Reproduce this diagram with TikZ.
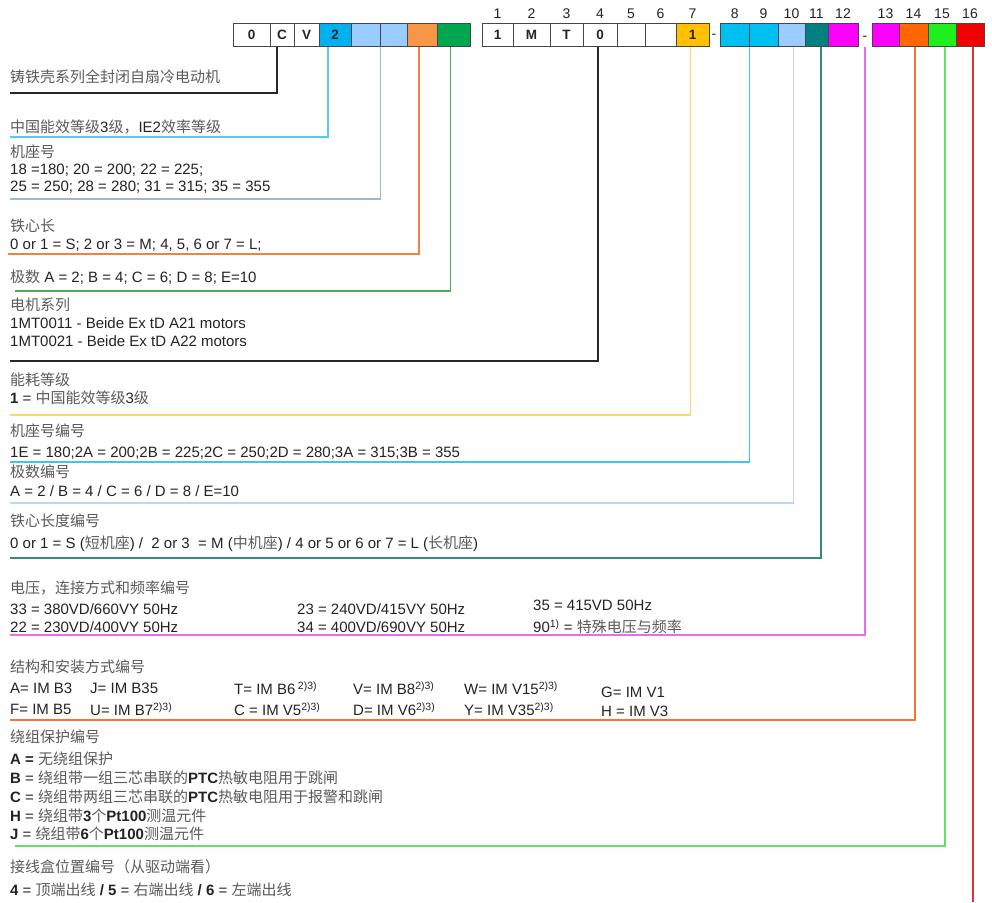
\documentclass[tikz,border=0pt]{standalone}
\usepackage{fontspec}
\setmainfont{Liberation Sans}
\newfontfamily\cjk{Noto Sans CJK SC}
\usepackage{tikz}
\usetikzlibrary{positioning}
\definecolor{txtc}{RGB}{35,35,35}
\definecolor{zhc}{RGB}{90,90,90}
\definecolor{cellline}{RGB}{70,70,70}
\definecolor{cblue}{RGB}{0,176,240}
\definecolor{clight}{RGB}{153,204,255}
\definecolor{corange}{RGB}{247,150,70}
\definecolor{cgreen}{RGB}{0,166,80}
\definecolor{cyellow}{RGB}{255,192,0}
\definecolor{ccyan}{RGB}{0,192,242}
\definecolor{cteal}{RGB}{0,128,128}
\definecolor{cmag}{RGB}{255,0,255}
\definecolor{corgb}{RGB}{255,102,0}
\definecolor{cgrnb}{RGB}{30,240,30}
\definecolor{cred}{RGB}{240,0,0}
\definecolor{lnblack}{RGB}{40,40,40}
\definecolor{lnblue}{RGB}{90,200,240}
\definecolor{lnlb}{RGB}{160,180,215}
\definecolor{lnorange}{RGB}{240,130,60}
\definecolor{lngreen}{RGB}{80,170,90}
\definecolor{lnyellow}{RGB}{255,215,100}
\definecolor{lncyan}{RGB}{60,200,235}
\definecolor{lnlbb}{RGB}{190,215,240}
\definecolor{lnteal}{RGB}{50,140,125}
\definecolor{lnmag}{RGB}{230,110,235}
\definecolor{lnorgb}{RGB}{240,120,50}
\definecolor{lngrnb}{RGB}{100,225,100}
\definecolor{lnred}{RGB}{225,50,50}
\newcommand{\zh}[1]{{\cjk\color{zhc}#1}}

\begin{document}
\begin{tikzpicture}[x=1pt,y=-1pt,
  txt/.style={anchor=west,inner sep=0pt,text=txtc,font=\fontsize{15}{17}\selectfont},
  cell/.style={draw=cellline,line width=1pt,minimum height=23pt,inner sep=0pt,text=txtc,font=\fontsize{13.5}{13.5}\selectfont\bfseries},
  num/.style={inner sep=0pt,text=txtc,font=\fontsize{14}{14}\selectfont},
  conn/.style={line width=1.3pt}]
\useasboundingbox (0,0) rectangle (992,902);
% code boxes, left group
\node[cell,minimum width=37pt](l1)at(251.5,35){0};\node[cell,minimum width=24pt](l2)at(282,35){C};
\node[cell,minimum width=25pt](l3)at(306.5,35){V};\node[cell,minimum width=32pt,fill=cblue](l4)at(335,35){2};
\node[cell,minimum width=29pt,fill=clight](l5)at(365.5,35){};\node[cell,minimum width=27pt,fill=clight](l6)at(393.5,35){};
\node[cell,minimum width=30pt,fill=corange](l7)at(422,35){};\node[cell,minimum width=33pt,fill=cgreen](l8)at(453.5,35){};
% code boxes, right group
\node[cell,minimum width=31pt](r1)at(497.5,35){1};\node[cell,minimum width=37pt](r2)at(531.5,35){M};
\node[cell,minimum width=33pt](r3)at(566.5,35){T};\node[cell,minimum width=34pt](r4)at(600,35){0};
\node[cell,minimum width=28pt](r5)at(631,35){};\node[cell,minimum width=31pt](r6)at(660.5,35){};
\node[cell,minimum width=33pt,fill=cyellow](r7)at(692.5,35){1};\node[num](d1)at(714,36){-};
\node[cell,minimum width=28.5pt,fill=ccyan](r8)at(734.75,35){};\node[cell,minimum width=29pt,fill=ccyan](r9)at(763.5,35){};
\node[cell,minimum width=27pt,fill=clight](r10)at(791.5,35){};\node[cell,minimum width=23pt,fill=cteal](r11)at(816.5,35){};
\node[cell,minimum width=30pt,fill=cmag](r12)at(843,35){};\node[num](d2)at(865,38){-};
\node[cell,minimum width=27pt,fill=cmag](r13)at(885.5,35){};\node[cell,minimum width=29pt,fill=corgb](r14)at(913.5,35){};
\node[cell,minimum width=28pt,fill=cgrnb](r15)at(942,35){};\node[cell,minimum width=28pt,fill=cred](r16)at(970,35){};
% position numbers
\node[num,above=4pt of r1](n1){1};\node[num,above=4pt of r2](n2){2};\node[num,above=4pt of r3](n3){3};
\node[num,above=4pt of r4](n4){4};\node[num,above=4pt of r5](n5){5};\node[num,above=4pt of r6](n6){6};
\node[num,above=4pt of r7](n7){7};\node[num,above=4pt of r8](n8){8};\node[num,above=4pt of r9](n9){9};
\node[num,above=4pt of r10](n10){10};\node[num,above=4pt of r11](n11){11};\node[num,above=4pt of r12](n12){12};
\node[num,above=4pt of r13](n13){13};\node[num,above=4pt of r14](n14){14};\node[num,above=4pt of r15](n15){15};
\node[num,above=4pt of r16](n16){16};
% line ends
\coordinate(e1)at(10,93);\coordinate(e2)at(10,137);\coordinate(e3)at(10,199);\coordinate(e4)at(8,254);
\coordinate(e5)at(15,291);\coordinate(e6)at(10,361);\coordinate(e7)at(10,415);\coordinate(e8)at(10,462);
\coordinate(e9)at(10,503);\coordinate(e10)at(10,558);\coordinate(e11)at(10,635);\coordinate(e12)at(10,720);
\coordinate(e13)at(15,846);\coordinate(e14)at([xshift=3pt]r16.south |- 0,902);
\draw[conn,draw=lnblack]([xshift=-5pt]l2.south)|-(e1);\draw[conn,draw=lnblue]([xshift=-7pt]l4.south)|-(e2);
\draw[conn,draw=lnlb](l5.south east)|-(e3);\draw[conn,draw=lnorange]([xshift=-3pt]l7.south)|-(e4);
\draw[conn,draw=lngreen]([xshift=-3pt]l8.south)|-(e5);\draw[conn,draw=lnblack]([xshift=-2pt]r4.south)|-(e6);
\draw[conn,draw=lnyellow]([xshift=-2pt]r7.south)|-(e7);\draw[conn,draw=lncyan](r8.south east)|-(e8);
\draw[conn,draw=lnlbb]([xshift=2pt]r10.south)|-(e9);\draw[conn,draw=lnteal]([xshift=4.5pt]r11.south)|-(e10);
\draw[conn,draw=lnmag](r12.south -| d2)|-(e11);\draw[conn,draw=lnorgb]([xshift=1.5pt]r14.south)|-(e12);
\draw[conn,draw=lngrnb]([xshift=3pt]r15.south)|-(e13);\draw[conn,draw=lnred]([xshift=3pt]r16.south)--(e14);
% texts
\node[txt](a1)at(10,77){\zh{铸铁壳系列全封闭自扇冷电动机}};
\node[txt](a2)at(10,127){\zh{中国能效等级}3\zh{级，}IE2\zh{效率等级}};
\node[txt](a3)at(10,152){\zh{机座号}};
\node[txt](a3b)at(10,170){18 =180; 20 = 200; 22 = 225;};
\node[txt](a3c)at(10,187){25 = 250; 28 = 280; 31 = 315; 35 = 355};
\node[txt](a4)at(10,226){\zh{铁心长}};
\node[txt](a4b)at(10,245){0 or 1 = S; 2 or 3 = M; 4, 5, 6 or 7 = L;};
\node[txt](a5)at(10,277){\zh{极数} A = 2; B = 4; C = 6; D = 8; E=10};
\node[txt](b1)at(10,305){\zh{电机系列}};
\node[txt](b1b)at(10,323){1MT0011 - Beide Ex tD A21 motors};
\node[txt](b1c)at(10,341){1MT0021 - Beide Ex tD A22 motors};
\node[txt](b2)at(10,380){\zh{能耗等级}};
\node[txt](b2b)at(10,398){\textbf{1} = \zh{中国能效等级}3\zh{级}};
\node[txt](b3)at(10,431){\zh{机座号编号}};
\node[txt](b3b)at(10,453){1E = 180;2A = 200;2B = 225;2C = 250;2D = 280;3A = 315;3B = 355};
\node[txt](b4)at(10,472){\zh{极数编号}};
\node[txt](b4b)at(10,491){A = 2 / B = 4 / C = 6 / D = 8 / E=10};
\node[txt](b5)at(10,521){\zh{铁心长度编号}};
\node[txt](b5b)at(10,544){0 or 1 = S (\zh{短机座}) /\ \ 2 or 3\ \ = M (\zh{中机座}) / 4 or 5 or 6 or 7 = L (\zh{长机座})};
\node[txt](c1)at(10,588){\zh{电压，连接方式和频率编号}};
\node[txt](v1)at(10,609){33 = 380VD/660VY 50Hz};\node[txt](v2)at(10,627){22 = 230VD/400VY 50Hz};
\node[txt](v3)at(297,609){23 = 240VD/415VY 50Hz};\node[txt](v4)at(297,627){34 = 400VD/690VY 50Hz};
\node[txt](v5)at(533,605){35 = 415VD 50Hz};\node[txt](v6)at(533,627){90\textsuperscript{1)} = \zh{特殊电压与频率}};
\node[txt](c2)at(10,667){\zh{结构和安装方式编号}};
\node[txt](m1)at(10,688){A= IM B3};\node[txt](m2)at(90,688){J= IM B35};
\node[txt](m3)at(234,688){T= IM B6\,\textsuperscript{2)3)}};\node[txt](m4)at(353,688){V= IM B8\textsuperscript{2)3)}};
\node[txt](m5)at(464,688){W= IM V15\textsuperscript{2)3)}};\node[txt](m6)at(601,692){G= IM V1};
\node[txt](m7)at(10,709){F= IM B5};\node[txt](m8)at(90,709){U= IM B7\textsuperscript{2)3)}};
\node[txt](m9)at(234,709){C = IM V5\textsuperscript{2)3)}};\node[txt](m10)at(353,709){D= IM V6\textsuperscript{2)3)}};
\node[txt](m11)at(464,709){Y= IM V35\textsuperscript{2)3)}};\node[txt](m12)at(601,711){H = IM V3};
\node[txt](c3)at(10,737){\zh{绕组保护编号}};
\node[txt](w1)at(10,759){\textbf{A =} \zh{无绕组保护}};
\node[txt](w2)at(10,778){\textbf{B} = \zh{绕组带一组三芯串联的}\textbf{PTC}\zh{热敏电阻用于跳闸}};
\node[txt](w3)at(10,797){\textbf{C} = \zh{绕组带两组三芯串联的}\textbf{PTC}\zh{热敏电阻用于报警和跳闸}};
\node[txt](w4)at(10,816){\textbf{H} = \zh{绕组带}\textbf{3}\zh{个}\textbf{Pt100}\zh{测温元件}};
\node[txt](w5)at(10,834){\textbf{J} = \zh{绕组带}\textbf{6}\zh{个}\textbf{Pt100}\zh{测温元件}};
\node[txt](c4)at(10,867){\zh{接线盒位置编号（从驱动端看）}};
\node[txt](k1)at(10,890){\textbf{4} = \zh{顶端出线} \textbf{/ 5} = \zh{右端出线} \textbf{/ 6} = \zh{左端出线}};
\end{tikzpicture}
\end{document}
